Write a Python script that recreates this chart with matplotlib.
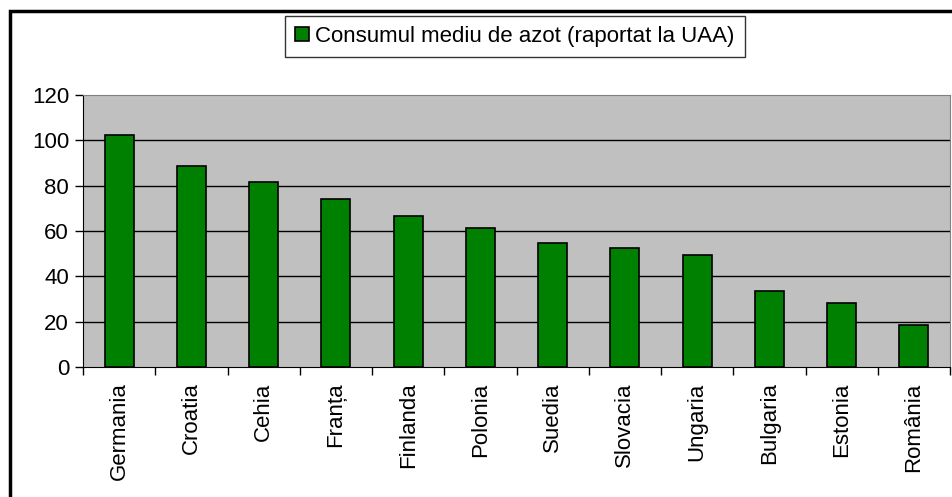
import numpy as np
import matplotlib.pyplot as plt
from matplotlib.patches import Rectangle

plt.rcParams['font.family'] = ['Liberation Sans', 'DejaVu Sans']

tari = ["Germania", "Croatia", "Cehia", "Franța", "Finlanda", "Polonia",
        "Suedia", "Slovacia", "Ungaria", "Bulgaria", "Estonia", "România"]
azot = [102.5, 88.8, 81.8, 74.3, 66.8, 61.5, 54.8, 52.6, 49.5, 33.6, 28.4, 18.5]
yticks = [0, 20, 40, 60, 80, 100, 120]

fig = plt.figure(figsize=(9.52, 4.97), dpi=100)
ax = fig.add_axes([83 / 952, 1 - 367 / 497, (950 - 83) / 952, (367 - 95) / 497])
ax.set_facecolor('#c0c0c0')

x = np.arange(len(tari))
bars = ax.bar(x, azot, width=0.4, color='#008000', edgecolor='black', linewidth=1.2,
              label="Consumul mediu de azot (raportat la UAA)", zorder=3)

ax.set_xlim(-0.5, len(tari) - 0.5)
ax.set_ylim(0, 120)
ax.set_yticks(yticks)
ax.tick_params(axis='y', labelsize=16, length=6, direction='out', width=1, pad=4)
for v in yticks[1:-1]:
    ax.axhline(v, color='black', linewidth=1, zorder=1)

# ticks between categories, labels at centers
ax.set_xticks(np.arange(len(tari) + 1) - 0.5)
ax.set_xticklabels([])
ax.tick_params(axis='x', length=6, width=1, direction='out')
ax.set_xticks(x, minor=True)
ax.set_xticklabels(tari, minor=True, rotation=90, fontsize=16)
ax.tick_params(axis='x', which='minor', length=0, pad=11)

for s in ['top', 'right']:
    ax.spines[s].set_color('#808080')
ax.spines['left'].set_color('black')
ax.spines['bottom'].set_color('black')

leg = fig.legend(loc='upper center', bbox_to_anchor=(515 / 952, 1 - 16 / 497),
                 fontsize=16, frameon=True, fancybox=False, handlelength=0.6,
                 handleheight=0.6, handletextpad=0.3, borderpad=0.45,
                 borderaxespad=0)
leg.get_frame().set_edgecolor('black')
leg.get_frame().set_linewidth(1)

# outer chart border (cropped at right and bottom)
fig.patches.append(Rectangle((10 / 952, -0.1), 1.1, 1 - 11 / 497 + 0.1,
                             transform=fig.transFigure, fill=False,
                             edgecolor='black', linewidth=2.5, clip_on=False))

fig.savefig('out.png', dpi=100)
